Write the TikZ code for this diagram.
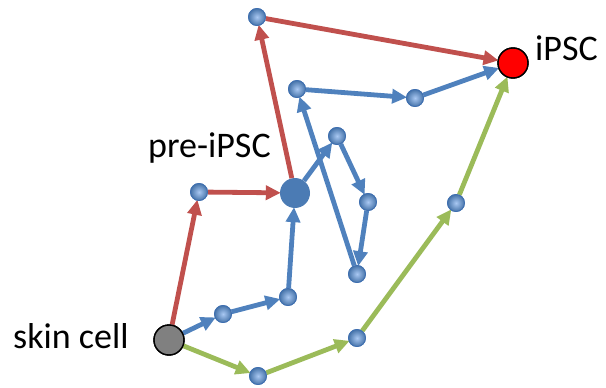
\documentclass[tikz,border=0pt]{standalone}
\usepackage{fontspec}
\setmainfont{Carlito}
\usetikzlibrary{arrows.meta}
\definecolor{pathred}{HTML}{C0504D}
\definecolor{pathblue}{HTML}{4F81BD}
\definecolor{pathgreen}{HTML}{9BBB59}
\definecolor{dotlight}{HTML}{A9C8F2}
\definecolor{dotedge}{HTML}{3F6FB0}
\tikzset{
  dot/.style={circle, minimum size=17pt, inner sep=0pt, draw=dotedge, line width=0.8pt,
    shading=radial, inner color=dotlight, outer color=pathblue!90!black},
  bigcell/.style={circle, minimum size=30pt, inner sep=0pt},
  route/.style={line width=4.8pt, -{Triangle[length=15pt,width=14pt]}, shorten >=-1pt},
  label/.style={font=\fontsize{36}{40}\selectfont, inner sep=0pt, anchor=base west},
}
\begin{document}
\begin{tikzpicture}[x=1pt,y=-1pt]
\useasboundingbox (0,0) rectangle (606,388);

% cell states
\node[bigcell, fill=black!50, draw=black, line width=1.4pt] (skin) at (169,340) {};
\node[bigcell, fill=red, draw=black, line width=1.4pt] (ipsc) at (513,63) {};
\node[bigcell, fill=pathblue!95!black] (pre) at (295,193) {};

% intermediate states
\node[dot] (a) at (257,17) {};
\node[dot] (b) at (297,89) {};
\node[dot] (c) at (415,98) {};
\node[dot] (d) at (337,136) {};
\node[dot] (e) at (368,202) {};
\node[dot] (f) at (357,274) {};
\node[dot] (g) at (199,192) {};
\node[dot] (h) at (223,314) {};
\node[dot] (i) at (288,297) {};
\node[dot] (j) at (258,376) {};
\node[dot] (k) at (357,338) {};
\node[dot] (l) at (456,203) {};

% labels
\node[label] at (535,60) {iPSC};
\node[label] at (148,157) {pre-iPSC};
\node[label] at (13,348) {skin cell};

% red route
\draw[route, pathred] (skin) -- (g);
\draw[route, pathred] (g) -- (pre);
\draw[route, pathred] (pre) -- (a);
\draw[route, pathred] (a) -- (ipsc);

% blue route
\draw[route, pathblue] (skin) -- (h);
\draw[route, pathblue] (h) -- (i);
\draw[route, pathblue] (i) -- (pre);
\draw[route, pathblue] (pre) -- (d);
\draw[route, pathblue] (d) -- (e);
\draw[route, pathblue] (e) -- (f);
\draw[route, pathblue] (f) -- (b);
\draw[route, pathblue] (b) -- (c);
\draw[route, pathblue] (c) -- (ipsc);

% green route
\draw[route, pathgreen] (skin) -- (j);
\draw[route, pathgreen] (j) -- (k);
\draw[route, pathgreen] (k) -- (l);
\draw[route, pathgreen] (l) -- (ipsc);

% redraw the nodes above the connectors
\foreach \n/\x/\y in {a/257/17, b/297/89, c/415/98, d/337/136, e/368/202, f/357/274,
    g/199/192, h/223/314, i/288/297, j/258/376, k/357/338, l/456/203}
  \node[dot] at (\x,\y) {};
\node[bigcell, fill=black!50, draw=black, line width=1.4pt] at (skin) {};
\node[bigcell, fill=red, draw=black, line width=1.4pt] at (ipsc) {};
\end{tikzpicture}
\end{document}
